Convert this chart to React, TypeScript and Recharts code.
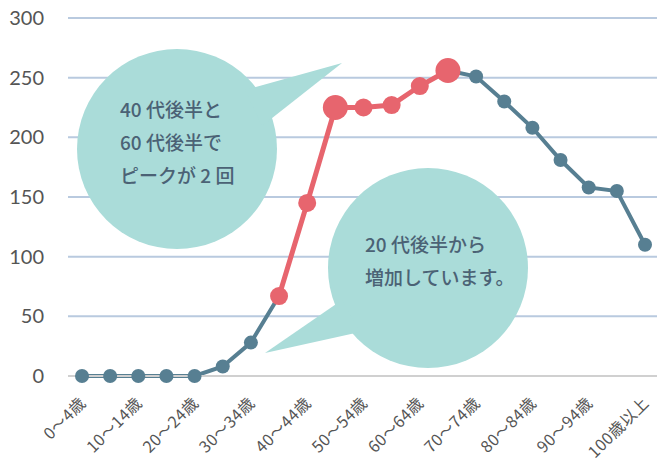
import { LineChart, Line, XAxis, YAxis, CartesianGrid, Customized } from 'recharts';

const ageGroups = [
  '0～4歳', '5～9歳', '10～14歳', '15～19歳', '20～24歳', '25～29歳', '30～34歳',
  '35～39歳', '40～44歳', '45～49歳', '50～54歳', '55～59歳', '60～64歳', '65～69歳',
  '70～74歳', '75～79歳', '80～84歳', '85～89歳', '90～94歳', '95～99歳', '100歳以上',
];
// 青い線（増加区間以外）
const baseSeries = [0, 0, 0, 0, 0, 8, 28, 67, null, null, null, null, null, 256, 251, 230, 208, 181, 158, 155, 110];
// 赤い線（20代後半〜60代後半）
const riseSeries = [null, null, null, null, null, null, null, 67, 145, 225, 225, 227, 243, 256, null, null, null, null, null, null, null];
const peakAges = ['45～49歳', '65～69歳'];
const yTicks = [0, 50, 100, 150, 200, 250, 300];

const bubble1 = ['40 代後半と', '60 代後半で', 'ピークが 2 回'];
const bubble2 = ['20 代後半から', '増加しています。'];

const rows = ageGroups.map((age, i) => ({ age, base: baseSeries[i], rise: riseSeries[i] }));

const BLUE = '#577f92';
const RED = '#e7656e';
const BUBBLE = '#aadcd9';
const TEXT = '#4b6275';
const JP = '"Noto Sans CJK JP", "Noto Sans", sans-serif';

function AgeTick({ x, y, payload }: any) {
  return (
    <g transform={`translate(${x + 5},${y + 28})`}>
      <text x={0} y={0} textAnchor="end" transform="rotate(-45)" fontSize={16} letterSpacing={0.5} fill="#555" fontFamily={JP}>
        {payload.value}
      </text>
    </g>
  );
}

function BlueDot({ cx, cy, value }: any) {
  if (value == null) return null;
  return <circle cx={cx} cy={cy} r={7} fill={BLUE} />;
}

function RedDot({ cx, cy, value, payload }: any) {
  if (value == null) return null;
  const big = peakAges.includes(payload.age);
  return <circle cx={cx} cy={cy} r={big ? 12.5 : 9} fill={RED} />;
}

function Bubbles() {
  return (
    <g>
      <circle cx={177} cy={149} r={100} fill={BUBBLE} />
      <polygon points="342,63 245,90 262,126" fill={BUBBLE} />
      {bubble1.map((t, i) => (
        <text key={t} x={120} y={117 + i * 33} fontSize={19} fontWeight={500} fill={TEXT} fontFamily={JP}>{t}</text>
      ))}
      <circle cx={428} cy={268} r={100} fill={BUBBLE} />
      <polygon points="265,353 342,300 360,332" fill={BUBBLE} />
      {bubble2.map((t, i) => (
        <text key={t} x={365} y={252 + i * 33} fontSize={19} fontWeight={500} fill={TEXT} fontFamily={JP}>{t}</text>
      ))}
    </g>
  );
}

export default function App() {
  return (
    <div style={{ position: 'absolute', left: 0, top: 0, width: 659, height: 463, background: '#fff' }}>
      <LineChart width={659} height={463} data={rows} margin={{ top: 18, right: 2, bottom: 0, left: 0 }}>
        <CartesianGrid vertical={false} stroke="#b9cadf" strokeWidth={2} />
        <XAxis
          dataKey="age"
          scale="point"
          padding={{ left: 14, right: 12 }}
          interval={1}
          height={87}
          tickLine={false}
          tickSize={0}
          tickMargin={0}
          axisLine={{ stroke: '#d0d0d0', strokeWidth: 2 }}
          tick={<AgeTick />}
        />
        <YAxis
          width={68}
          domain={[0, 300]}
          ticks={yTicks}
          axisLine={false}
          tickLine={false}
          tickSize={0}
          tickMargin={24}
          tick={{ fontSize: 20, fill: '#555', fontFamily: 'Lato, sans-serif' }}
        />
        <Customized component={<Bubbles />} />
        <Line dataKey="base" stroke={BLUE} strokeWidth={4} dot={<BlueDot />} activeDot={false} isAnimationActive={false} connectNulls={false} />
        <Line dataKey="rise" stroke={RED} strokeWidth={5} dot={<RedDot />} activeDot={false} isAnimationActive={false} connectNulls={false} />
      </LineChart>
    </div>
  );
}
